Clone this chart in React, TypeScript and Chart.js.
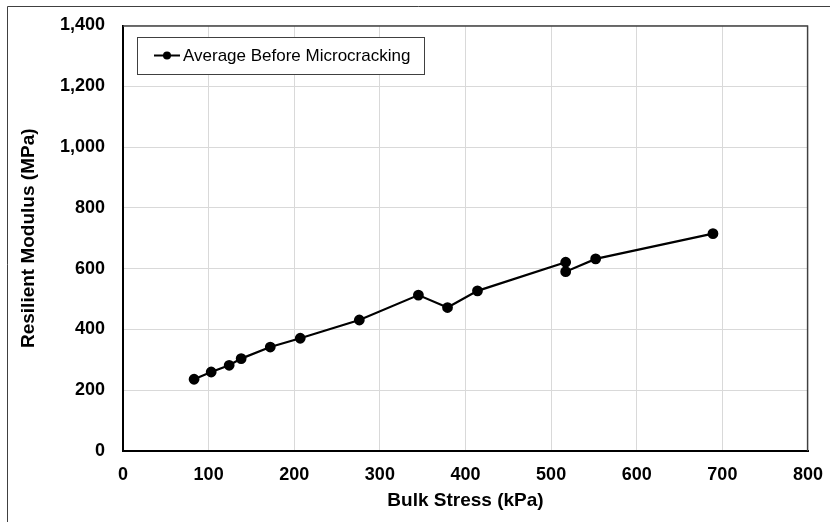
import React, { useEffect, useRef } from "react";
import { Chart, registerables } from "chart.js";

Chart.register(...registerables);

const bulkStress = [83, 103, 124, 138, 172, 207, 276, 345, 379, 414, 517, 517, 552, 689];
const resilientModulus = [236, 260, 282, 304, 342, 371, 431, 513, 472, 527, 621, 590, 632, 715];
const seriesLabel = "Average Before Microcracking";
const xTitle = "Bulk Stress (kPa)";
const yTitle = "Resilient Modulus (MPa)";

const FONT = "'Liberation Sans', Arial, sans-serif";

export default function App() {
  const ref = useRef<HTMLCanvasElement | null>(null);

  useEffect(() => {
    if (!ref.current) return;
    const framePlugin = {
      id: "frame",
      beforeDraw(chart: any) {
        const ctx = chart.ctx;
        ctx.save();
        ctx.fillStyle = "#ffffff";
        ctx.fillRect(0, 0, chart.width, chart.height);
        ctx.strokeStyle = "#404040";
        ctx.lineWidth = 1;
        ctx.beginPath();
        ctx.moveTo(7.5, chart.height);
        ctx.lineTo(7.5, 6.5);
        ctx.lineTo(chart.width, 6.5);
        ctx.stroke();
        ctx.restore();
      },
      afterDatasetsDraw(chart: any) {
        const ctx = chart.ctx;
        const a = chart.chartArea;
        ctx.save();
        ctx.strokeStyle = "#404040";
        ctx.lineWidth = 1.3;
        ctx.beginPath();
        ctx.moveTo(a.left, a.top + 0.5);
        ctx.lineTo(a.right - 0.5, a.top + 0.5);
        ctx.lineTo(a.right - 0.5, a.bottom);
        ctx.stroke();
        const bx = 137.5, by = 37.5, bw = 287, bh = 37;
        ctx.fillStyle = "#ffffff";
        ctx.fillRect(bx, by, bw, bh);
        ctx.strokeStyle = "#404040";
        ctx.lineWidth = 1;
        ctx.strokeRect(bx, by, bw, bh);
        const cy = 55.5;
        ctx.strokeStyle = "#000000";
        ctx.lineWidth = 2;
        ctx.beginPath();
        ctx.moveTo(154, cy);
        ctx.lineTo(180, cy);
        ctx.stroke();
        ctx.fillStyle = "#000000";
        ctx.beginPath();
        ctx.arc(167, cy, 4, 0, Math.PI * 2);
        ctx.fill();
        ctx.font = `17px ${FONT}`;
        ctx.textBaseline = "middle";
        ctx.textAlign = "left";
        ctx.fillText(chart.data.datasets[0].label, 183, cy + 1);
        ctx.restore();
      },
    };

    const chart = new Chart(ref.current, {
      type: "line",
      data: {
        datasets: [
          {
            label: seriesLabel,
            data: bulkStress.map((x, i) => ({ x, y: resilientModulus[i] })),
            borderColor: "#000000",
            backgroundColor: "#000000",
            borderWidth: 2.2,
            pointRadius: 4.3,
            pointHoverRadius: 4.3,
            pointBackgroundColor: "#000000",
            pointBorderColor: "#000000",
            tension: 0,
          },
        ],
      },
      options: {
        responsive: false,
        animation: false,
        locale: "en-US",
        layout: { padding: { top: 25.5, right: 22, left: 0, bottom: 0 } },
        plugins: {
          legend: { display: false },
          tooltip: { enabled: false },
        },
        scales: {
          x: {
            type: "linear",
            min: 0,
            max: 800,
            afterFit: (s: any) => {
              s.height = 71;
              s.paddingLeft = 0;
              s.paddingRight = 0;
              s.paddingTop = 0;
              s.paddingBottom = 0;
            },
            ticks: {
              stepSize: 100,
              color: "#000000",
              padding: 13,
              font: { family: FONT, size: 18, weight: "bold" },
            },
            grid: { color: "#d9d9d9", lineWidth: 1, drawTicks: false },
            border: { display: true, color: "#000000", width: 2 },
            title: {
              display: true,
              text: xTitle,
              color: "#000000",
              font: { family: FONT, size: 19, weight: "bold" },
              padding: { top: 0, bottom: 10 },
            },
          },
          y: {
            type: "linear",
            min: 0,
            max: 1400,
            afterFit: (s: any) => {
              s.width = 123;
              s.paddingLeft = 0;
              s.paddingRight = 0;
              s.paddingTop = 0;
              s.paddingBottom = 0;
            },
            ticks: {
              stepSize: 200,
              color: "#000000",
              padding: 18,
              font: { family: FONT, size: 18, weight: "bold" },
            },
            grid: { color: "#d9d9d9", lineWidth: 1, drawTicks: false },
            border: { display: true, color: "#000000", width: 2 },
            title: {
              display: true,
              text: yTitle,
              color: "#000000",
              font: { family: FONT, size: 19, weight: "bold" },
              padding: { top: 17.5, bottom: 0 },
            },
          },
        },
      },
      plugins: [framePlugin],
    } as any);
    return () => chart.destroy();
  }, []);

  return (
    <div style={{ position: "fixed", left: 0, top: 0, width: 830, height: 522, background: "#fff" }}>
      <canvas ref={ref} width={830} height={522} style={{ display: "block", width: 830, height: 522 }} />
    </div>
  );
}
